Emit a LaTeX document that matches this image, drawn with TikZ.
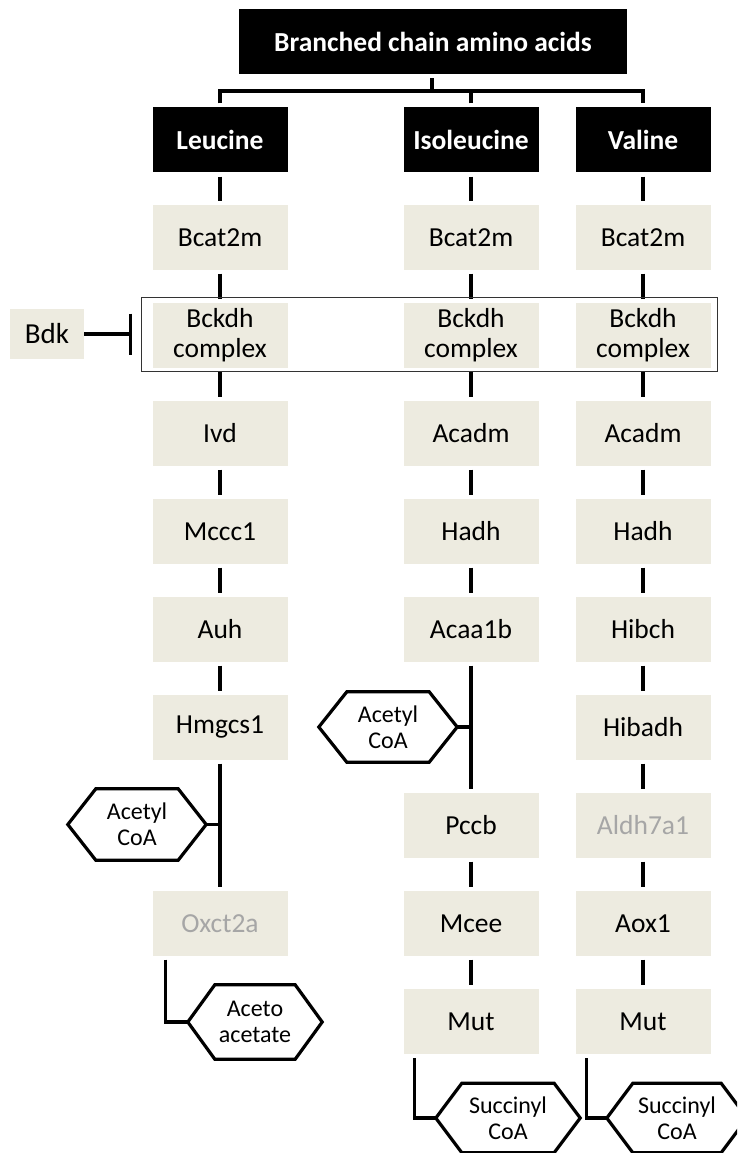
\documentclass[tikz,border=0pt]{standalone}
\usepackage{fontspec}
\setmainfont{Carlito}
\usetikzlibrary{arrows.meta}
\definecolor{beige}{HTML}{EDEBE0}
\definecolor{greytxt}{HTML}{A6A6A6}
\newcommand\hexdraw[2][27]{\draw[hexline] (#2.west) -- ([xshift=#1]#2.north west) -- ([xshift=-#1]#2.north east) -- (#2.east) -- ([xshift=-#1]#2.south east) -- ([xshift=#1]#2.south west) -- cycle;}
\begin{document}
\begin{tikzpicture}[x=1pt,y=-1pt,
  hdr/.style={fill=black,text=white,font=\fontsize{27.5}{31}\selectfont\bfseries,minimum width=135pt,minimum height=65pt,inner sep=0pt},
  enz/.style={fill=beige,text=black,font=\fontsize{27.5}{30}\selectfont,minimum width=135pt,minimum height=65pt,inner sep=0pt,align=center},
  dim/.style={text=greytxt},
  hexn/.style={font=\fontsize{24}{26}\selectfont,minimum width=138pt,minimum height=70pt,inner sep=0pt,align=center},
  hexline/.style={line width=3.2pt,line join=miter},
  conn/.style={line width=3.2pt,shorten <=3.5pt,shorten >=3.5pt},
  link/.style={line width=3.2pt},
  frame/.style={draw=black!80,line width=1.2pt}]
\useasboundingbox (0,0) rectangle (737,1153);
\clip (0,0) rectangle (737,1153);
% title and amino acids
\node[hdr,minimum width=388pt] (bcaa) at (433,41.5) {Branched chain amino acids};
\node[hdr] (leu) at (220,139.5) {Leucine};
\node[hdr] (ile) at (471,139.5) {Isoleucine};
\node[hdr] (val) at (643,139.5) {Valine};
\coordinate (bus) at (432,91);
\draw[link] ([yshift=-4pt]bcaa.south -| bus) -- (bus);
\draw[link] ([yshift=3.5pt]leu.north) |- (bus) -| ([yshift=3.5pt]val.north);
\draw[link] ([yshift=3.5pt]ile.north) -- (ile.north |- bus);
% Leucine column
\node[enz] (l0) at (220,237.5) {Bcat2m};
\node[enz] (l1) at (220,335.5) {Bckdh\\complex};
\node[enz] (l2) at (220,433.5) {Ivd};
\node[enz] (l3) at (220,531.5) {Mccc1};
\node[enz] (l4) at (220,629.5) {Auh};
\node[enz] (l5) at (220,727.5) {Hmgcs1};
\node[enz,dim] (l7) at (220,923.5) {Oxct2a};
% Isoleucine column
\node[enz] (i0) at (471,237.5) {Bcat2m};
\node[enz] (i1) at (471,335.5) {Bckdh\\complex};
\node[enz] (i2) at (471,433.5) {Acadm};
\node[enz] (i3) at (471,531.5) {Hadh};
\node[enz] (i4) at (471,629.5) {Acaa1b};
\node[enz] (i6) at (471,825.5) {Pccb};
\node[enz] (i7) at (471,923.5) {Mcee};
\node[enz] (i8) at (471,1021.5) {Mut};
% Valine column
\node[enz] (v0) at (643,237.5) {Bcat2m};
\node[enz] (v1) at (643,335.5) {Bckdh\\complex};
\node[enz] (v2) at (643,433.5) {Acadm};
\node[enz] (v3) at (643,531.5) {Hadh};
\node[enz] (v4) at (643,629.5) {Hibch};
\node[enz] (v5) at (643,727.5) {Hibadh};
\node[enz,dim] (v6) at (643,825.5) {Aldh7a1};
\node[enz] (v7) at (643,923.5) {Aox1};
\node[enz] (v8) at (643,1021.5) {Mut};
% connectors
\foreach \c in {l,i,v}{
  \draw[conn] (\c0) -- (\c1);
  \draw[conn] (\c1) -- (\c2);
  \draw[conn] (\c2) -- (\c3);
  \draw[conn] (\c3) -- (\c4);
}
\draw[conn,shorten <=4.5pt] (leu) -- (l0);
\draw[conn,shorten <=4.5pt] (ile) -- (i0);
\draw[conn,shorten <=4.5pt] (val) -- (v0);
\draw[conn] (l4) -- (l5);
\draw[conn] (l5) -- (l7);
\draw[conn] (i4) -- (i6);
\draw[conn] (i6) -- (i7);
\draw[conn] (i7) -- (i8);
\draw[conn] (v4) -- (v5);
\draw[conn] (v5) -- (v6);
\draw[conn] (v6) -- (v7);
\draw[conn] (v7) -- (v8);
% Bckdh frame and Bdk
\draw[frame] ([shift={(-11pt,5pt)}]l1.north west) rectangle ([shift={(6.5pt,-3pt)}]v1.south east);
\node[enz,font=\fontsize{29}{31}\selectfont,minimum width=74pt,minimum height=50pt] (bdk) at (47,334) {Bdk};
\coordinate (inh) at (132,334);
\draw[link,-{Bar[width=41pt,line width=3.4pt]}] (bdk.east) -- (inh);
% hexagon products
\node[hexn,minimum height=71pt] (acl) at (137,824.5) {Acetyl\\CoA};
\hexdraw[28]{acl}
\draw[link] (acl.east) -- (acl.east -| l5);
\node[hexn] (aci) at (388,727) {Acetyl\\CoA};
\hexdraw[28]{aci}
\draw[link] (aci.east) -- (aci.east -| i4);
\node[hexn,minimum width=134pt,minimum height=74pt] (aceto) at (255,1022) {Aceto\\acetate};
\hexdraw[27]{aceto}
\draw[link] ([shift={(13pt,-3.5pt)}]l7.south west) |- (aceto.west);
\node[hexn,minimum width=144pt,minimum height=69pt] (suci) at (508,1118) {Succinyl\\CoA};
\hexdraw[26]{suci}
\draw[link] ([shift={(11.5pt,-4pt)}]i8.south west) |- (suci.west);
\node[hexn,minimum width=140pt,minimum height=69pt] (sucv) at (677,1118) {Succinyl\\CoA};
\hexdraw[26]{sucv}
\draw[link] ([shift={(11pt,-4pt)}]v8.south west) |- (sucv.west);
\end{tikzpicture}
\end{document}
